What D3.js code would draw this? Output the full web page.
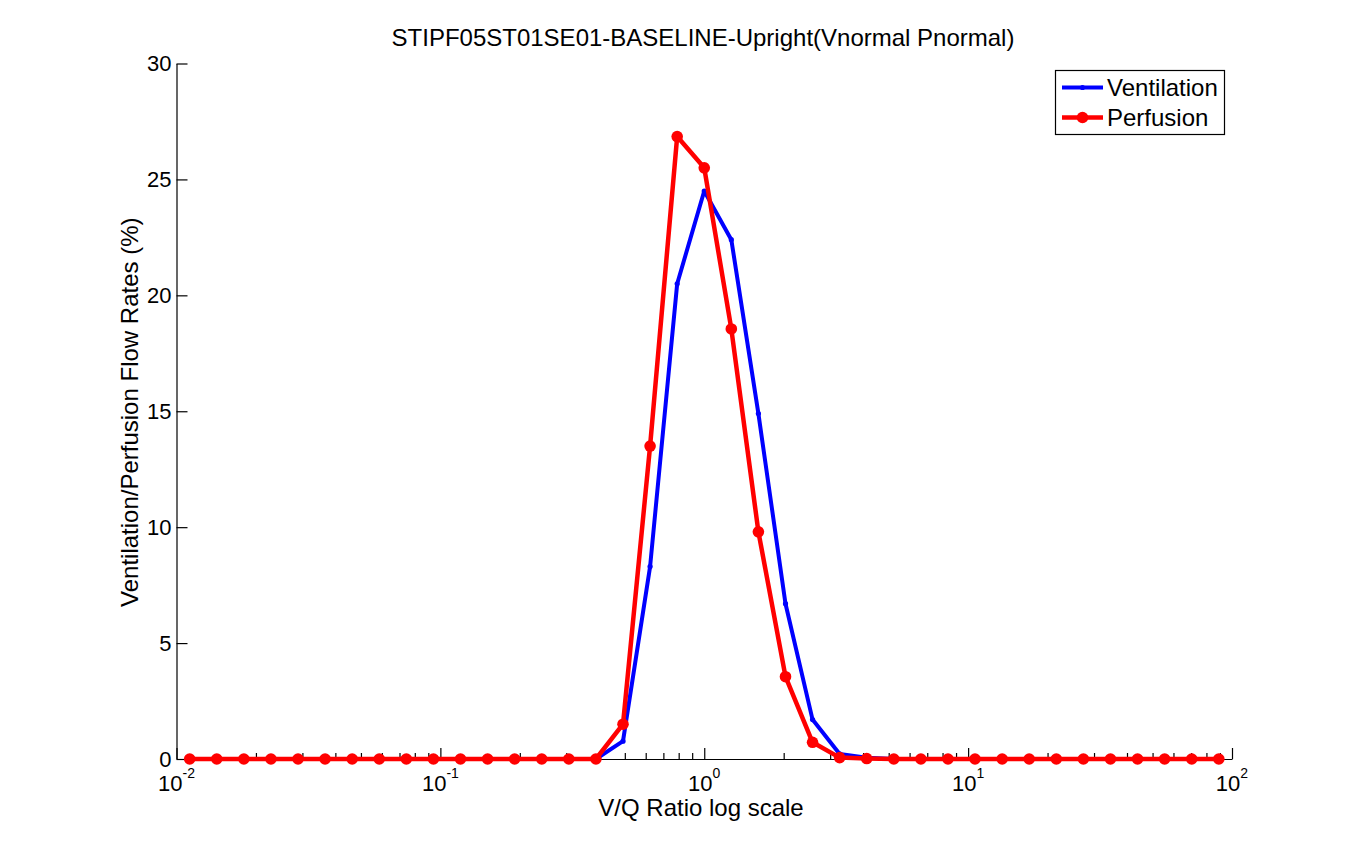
<!DOCTYPE html>
<html>
<head>
<meta charset="utf-8">
<script src="https://cdn.jsdelivr.net/npm/d3@7"></script>
<style>
  body { margin: 0; background: #fff; }
  svg { display: block; font-family: "Liberation Sans", Arial, sans-serif; }
</style>
</head>
<body>
<svg id="chart" width="1361" height="853"></svg>
<script>
// V/Q ratio bins (log spaced, centre bin = 1)
const vqRatio = [
  0.01122, 0.01421, 0.01800, 0.02280, 0.02888, 0.03657, 0.04632, 0.05867, 0.07431, 0.09412,
  0.1192, 0.1510, 0.1912, 0.2422, 0.3068, 0.3886, 0.4922, 0.6234, 0.7896, 1.0,
  1.2665, 1.604, 2.032, 2.573, 3.259, 4.128, 5.229, 6.622, 8.388, 10.62,
  13.46, 17.04, 21.59, 27.34, 34.63, 43.86, 55.55, 70.37, 89.13
];
const ventilation = [
  0, 0, 0, 0, 0, 0, 0, 0, 0, 0,
  0, 0, 0, 0, 0, 0, 0.77, 8.3, 20.5, 24.5,
  22.4, 14.9, 6.7, 1.7, 0.22, 0.05, 0, 0, 0, 0,
  0, 0, 0, 0, 0, 0, 0, 0, 0
];
const perfusion = [
  0, 0, 0, 0, 0, 0, 0, 0, 0, 0,
  0, 0, 0, 0, 0, 0, 1.5, 13.5, 26.85, 25.5,
  18.55, 9.8, 3.55, 0.72, 0.06, 0.02, 0, 0, 0, 0,
  0, 0, 0, 0, 0, 0, 0, 0, 0
];
const xDecades = [0.01, 0.1, 1, 10, 100];
const xExponents = ["-2", "-1", "0", "1", "2"];
const yTicks = [0, 5, 10, 15, 20, 25, 30];

const svg = d3.select("#chart");
const plotLeft = 176.5, plotRight = 1232, plotTop = 63.5, plotBottom = 759;

const x = d3.scaleLog().domain([0.01, 100]).range([plotLeft, plotRight]);
const y = d3.scaleLinear().domain([0, 30]).range([plotBottom, plotTop]);

// minor ticks 2..9 in each decade
const minor = [];
xDecades.slice(0, -1).forEach(d => {
  for (let m = 2; m <= 9; m++) minor.push(d * m);
});

const xAxis = svg.append("g").attr("transform", "translate(0," + plotBottom + ")");
xAxis.call(d3.axisBottom(x).tickValues(xDecades).tickSizeInner(-11).tickSizeOuter(0).tickFormat(""));
xAxis.append("g").call(d3.axisBottom(x).tickValues(minor).tickSizeInner(-6).tickSizeOuter(0).tickFormat(""))
  .select(".domain").remove();
xAxis.selectAll("path, line").attr("stroke", "#000").attr("stroke-width", 1.2);
xAxis.attr("font-family", null).attr("font-size", null);

const xLab = xAxis.selectAll(".xlab")
  .data(xDecades)
  .join("text")
  .attr("class", "xlab")
  .attr("x", d => x(d))
  .attr("y", 31.5)
  .attr("text-anchor", "middle")
  .attr("fill", "#000")
  .style("font-size", "22px");
xLab.append("tspan").text("10");
xLab.append("tspan")
  .attr("dy", -13)
  .style("font-size", "14px")
  .text((d, i) => xExponents[i]);

const yAxis = svg.append("g").attr("transform", "translate(" + plotLeft + ",0)");
yAxis.call(d3.axisLeft(y).tickValues(yTicks).tickSizeInner(-11).tickSizeOuter(0).tickPadding(5));
yAxis.selectAll("path, line").attr("stroke", "#000").attr("stroke-width", 1.2);
yAxis.attr("font-family", null).attr("font-size", null);
yAxis.selectAll("text").attr("fill", "#000").style("font-size", "22px");

const line = d3.line().x((d, i) => x(vqRatio[i])).y(d => y(d));

// ventilation
svg.append("path")
  .datum(ventilation)
  .attr("d", line)
  .attr("fill", "none")
  .attr("stroke", "#0000ff")
  .attr("stroke-width", 4)
  .attr("stroke-linejoin", "round");
svg.append("g").selectAll("circle")
  .data(ventilation)
  .join("circle")
  .attr("cx", (d, i) => x(vqRatio[i]))
  .attr("cy", d => y(d))
  .attr("r", 2.6)
  .attr("fill", "#0000ff");

// perfusion
svg.append("path")
  .datum(perfusion)
  .attr("d", line)
  .attr("fill", "none")
  .attr("stroke", "#ff0000")
  .attr("stroke-width", 4.5)
  .attr("stroke-linejoin", "round");
svg.append("g").selectAll("circle")
  .data(perfusion)
  .join("circle")
  .attr("cx", (d, i) => x(vqRatio[i]))
  .attr("cy", d => y(d))
  .attr("r", 5.8)
  .attr("fill", "#ff0000");

// title and labels
svg.append("text")
  .attr("x", 703).attr("y", 46)
  .attr("text-anchor", "middle")
  .style("font-size", "24px")
  .text("STIPF05ST01SE01-BASELINE-Upright(Vnormal Pnormal)");

svg.append("text")
  .attr("x", 701).attr("y", 816)
  .attr("text-anchor", "middle")
  .style("font-size", "24px")
  .text("V/Q Ratio log scale");

svg.append("text")
  .attr("transform", "translate(138," + ((plotTop + plotBottom) / 2 + 1) + ") rotate(-90)")
  .attr("text-anchor", "middle")
  .style("font-size", "24px")
  .text("Ventilation/Perfusion Flow Rates (%)");

// legend
const legend = svg.append("g");
legend.append("rect")
  .attr("x", 1055.5).attr("y", 70.5)
  .attr("width", 169).attr("height", 64)
  .attr("fill", "#fff").attr("stroke", "#000").attr("stroke-width", 1.2);
const items = [
  { name: "Ventilation", color: "#0000ff", r: 2.6, w: 4, y: 87.5 },
  { name: "Perfusion", color: "#ff0000", r: 5.8, w: 4.5, y: 117.5 }
];
items.forEach(it => {
  legend.append("line")
    .attr("x1", 1062).attr("x2", 1103).attr("y1", it.y).attr("y2", it.y)
    .attr("stroke", it.color).attr("stroke-width", it.w);
  legend.append("circle")
    .attr("cx", 1082.5).attr("cy", it.y).attr("r", it.r).attr("fill", it.color);
  legend.append("text")
    .attr("x", 1107).attr("y", it.y).attr("dy", "0.35em")
    .style("font-size", "24px")
    .text(it.name);
});
</script>
</body>
</html>
